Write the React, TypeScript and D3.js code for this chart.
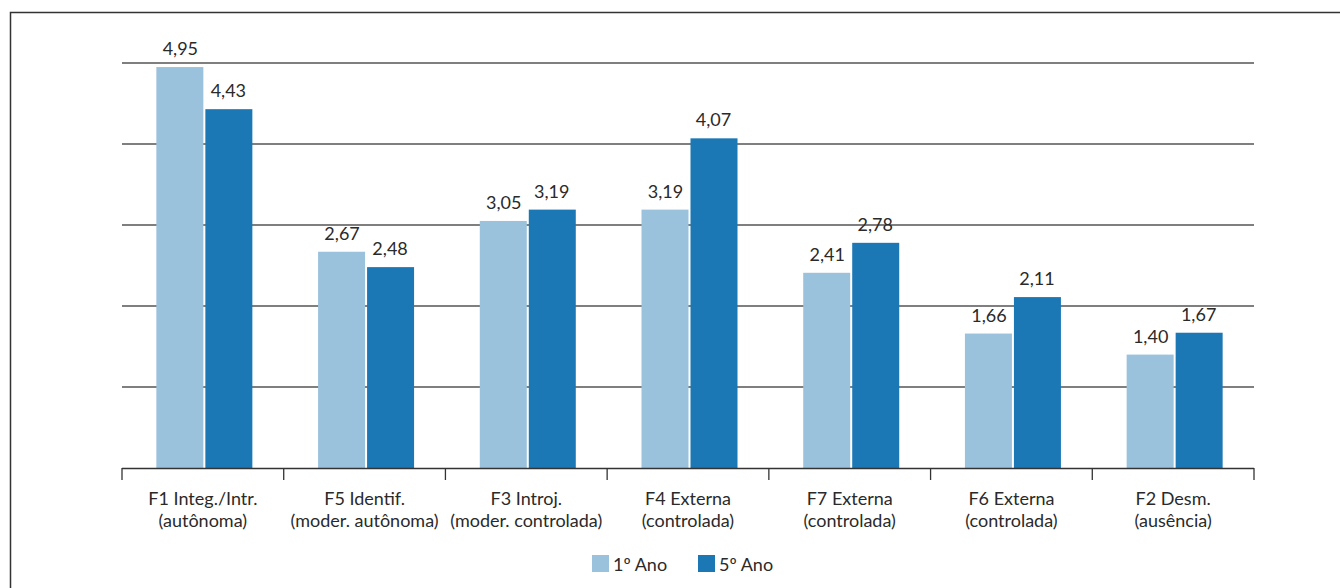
import React from "react";
import * as d3 from "d3";

const categories = [
  ["F1 Integ./Intr.", "(autônoma)"],
  ["F5 Identif.", "(moder. autônoma)"],
  ["F3 Introj.", "(moder. controlada)"],
  ["F4 Externa", "(controlada)"],
  ["F7 Externa", "(controlada)"],
  ["F6 Externa", "(controlada)"],
  ["F2 Desm.", "(ausência)"],
];
const series = ["1º Ano", "5º Ano"];
const ano1 = [4.95, 2.67, 3.05, 3.19, 2.41, 1.66, 1.4];
const ano5 = [4.43, 2.48, 3.19, 4.07, 2.78, 2.11, 1.67];
const gridTicks = [1, 2, 3, 4, 5];
const colors = ["#9bc2dc", "#1b78b4"];

const W = 1340;
const H = 588;
const FONT = "Lato, sans-serif";

export default function App() {
  const left = 122;
  const right = 1254;
  const base = 468;
  const top = 63;

  const x0 = d3
    .scaleBand<number>()
    .domain(d3.range(categories.length))
    .range([left, right])
    .padding(0);
  const bw = x0.bandwidth();
  const x1 = d3
    .scaleBand<string>()
    .domain(series)
    .range([(bw - 96) / 2 + 1.5, (bw + 96) / 2 + 1.5]);
  const y = d3.scaleLinear().domain([0, 5]).range([base, top]);

  const values = [ano1, ano5];
  const fmt = (v: number) => v.toFixed(2).replace(".", ",");
  const tickXs = d3.range(categories.length + 1).map((i) => left + i * bw);

  return (
    <svg
      width={W}
      height={H}
      style={{ position: "absolute", left: 0, top: 0, background: "#fff" }}
      fontFamily={FONT}
    >
      {/* frame */}
      <path d={`M10.5,${H} V12.5 H${W}`} fill="none" stroke="#333" strokeWidth={1.5} />

      {/* gridlines */}
      {gridTicks.map((t) => (
        <line key={t} x1={left} x2={right} y1={y(t)} y2={y(t)} stroke="#555" strokeWidth={1.3} />
      ))}

      {/* bars */}
      {categories.map((c, i) => (
        <g key={i} transform={`translate(${x0(i)},0)`}>
          {series.map((s, j) => {
            const v = values[j][i];
            const bx = x1(s)!;
            return (
              <g key={s}>
                <rect
                  x={bx + (j === 0 ? 0 : 1)}
                  y={y(v)}
                  width={x1.bandwidth() - 1}
                  height={base - y(v)}
                  fill={colors[j]}
                />
                <text
                  x={bx + x1.bandwidth() / 2}
                  y={y(v) - 12}
                  textAnchor="middle"
                  fontSize={18}
                  fill="#2a2a2a"
                >
                  {fmt(v)}
                </text>
              </g>
            );
          })}
          <text x={bw / 2} y={505} textAnchor="middle" fontSize={18} fill="#2a2a2a">
            {c[0]}
          </text>
          <text x={bw / 2} y={527} textAnchor="middle" fontSize={18} fill="#2a2a2a">
            {c[1]}
          </text>
        </g>
      ))}

      {/* axis */}
      <line x1={left} x2={right} y1={base + 0.5} y2={base + 0.5} stroke="#333" strokeWidth={1.3} />
      {tickXs.map((tx, i) => (
        <line key={i} x1={tx} x2={tx} y1={base} y2={480} stroke="#333" strokeWidth={1.3} />
      ))}

      {/* legend */}
      {series.map((s, j) => (
        <g key={s} transform={`translate(${592 + j * 106},555)`}>
          <rect width={17} height={17} fill={colors[j]} />
          <text x={21} y={16} fontSize={18} fill="#2a2a2a">
            {s}
          </text>
        </g>
      ))}
    </svg>
  );
}
